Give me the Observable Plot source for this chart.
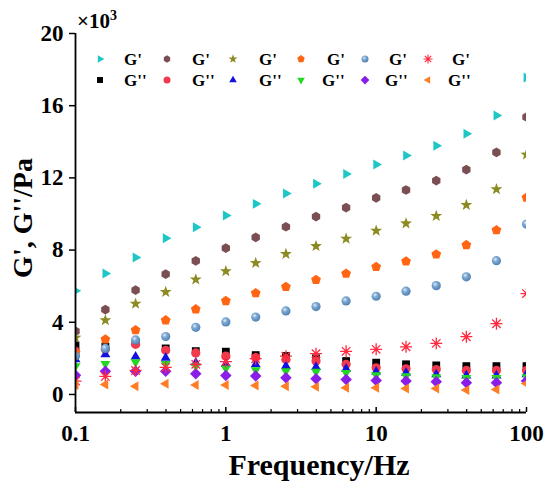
<!DOCTYPE html>
<html><head><meta charset="utf-8">
<script src="https://cdn.jsdelivr.net/npm/d3@7"></script>
<script src="https://cdn.jsdelivr.net/npm/@observablehq/plot@0.6"></script>
<style>body{margin:0;background:#fff}#chart{width:550px;height:485px}</style>
</head><body>
<svg width="0" height="0" style="position:absolute"><defs>
<radialGradient id="sphere" cx="38%" cy="35%" r="70%">
<stop offset="0%" stop-color="#e6eff8"/><stop offset="35%" stop-color="#7eaad4"/><stop offset="100%" stop-color="#4a7db0"/>
</radialGradient></defs></svg>
<div id="chart"></div>
<script>
// Frequency (Hz)
const freq = [0.1, 0.158, 0.251, 0.398, 0.631, 1, 1.58, 2.51, 3.98, 6.31, 10, 15.8, 25.1, 39.8, 63.1, 100];
// G' series (×10^3 Pa)
const gp1 = [5.74, 6.70, 7.59, 8.66, 9.26, 9.92, 10.56, 11.13, 11.68, 12.22, 12.74, 13.24, 13.78, 14.44, 15.46, 17.56];
const gp2 = [3.50, 4.70, 5.78, 6.67, 7.40, 8.11, 8.70, 9.29, 9.85, 10.35, 10.89, 11.33, 11.85, 12.46, 13.41, 15.37];
const gp3 = [3.15, 4.11, 5.03, 5.68, 6.37, 6.83, 7.28, 7.78, 8.22, 8.63, 9.07, 9.48, 9.89, 10.50, 11.37, 13.29];
const gp4 = [2.31, 3.05, 3.56, 4.11, 4.72, 5.18, 5.61, 5.96, 6.35, 6.70, 7.07, 7.37, 7.76, 8.28, 9.11, 10.91];
const gp5 = [2.13, 2.55, 3.02, 3.21, 3.72, 4.02, 4.29, 4.63, 4.87, 5.18, 5.44, 5.72, 6.03, 6.52, 7.41, 9.44];
const gp6 = [0.74, 1.00, 1.33, 1.50, 1.67, 1.82, 1.98, 2.12, 2.26, 2.39, 2.50, 2.64, 2.83, 3.20, 3.92, 5.59];
// G'' series (×10^3 Pa)
const gpp1 = [2.72, 2.65, 2.87, 2.55, 2.40, 2.37, 2.18, 2.13, 2.00, 1.85, 1.76, 1.67, 1.61, 1.57, 1.57, 1.57];
const gpp2 = [2.40, 2.50, 2.78, 2.45, 2.30, 2.13, 2.04, 1.94, 1.85, 1.67, 1.48, 1.42, 1.38, 1.33, 1.33, 1.33];
const gpp3 = [1.95, 2.22, 2.09, 2.03, 1.76, 1.70, 1.67, 1.57, 1.52, 1.42, 1.26, 1.20, 1.11, 1.05, 1.05, 1.11];
const gpp4 = [1.57, 1.70, 1.79, 1.70, 1.57, 1.44, 1.35, 1.29, 1.26, 1.20, 1.07, 1.02, 0.96, 0.92, 0.92, 0.96];
const gpp5 = [1.06, 1.29, 1.29, 1.29, 1.15, 1.05, 1.02, 0.92, 0.87, 0.83, 0.78, 0.74, 0.70, 0.65, 0.65, 0.74];
const gpp6 = [0.52, 0.55, 0.46, 0.59, 0.52, 0.52, 0.50, 0.46, 0.42, 0.37, 0.37, 0.33, 0.33, 0.24, 0.28, 0.60];
// Tick labels
const xTicks = [0.1, 1, 10, 100];
const xMinor = [0.2,0.3,0.4,0.5,0.6,0.7,0.8,0.9,2,3,4,5,6,7,8,9,20,30,40,50,60,70,80,90];
const yTicks = [0, 4, 8, 12, 16, 20];
const labelGp = "G'", labelGpp = "G''";

// custom symbols
function poly(n, rot, k) {
  return {draw(ctx, size) {
    const r = Math.sqrt(size / Math.PI) * k;
    for (let i = 0; i < n; i++) {
      const a = rot + 2 * Math.PI * i / n, x = r * Math.cos(a), y = r * Math.sin(a);
      i ? ctx.lineTo(x, y) : ctx.moveTo(x, y);
    }
    ctx.closePath();
  }};
}
const star5 = {draw(ctx, size) {
  const r = Math.sqrt(size / Math.PI);
  for (let i = 0; i < 10; i++) {
    const a = -Math.PI / 2 + Math.PI * i / 5, rr = i % 2 ? r * 0.55 : r * 1.35;
    const x = rr * Math.cos(a), y = rr * Math.sin(a);
    i ? ctx.lineTo(x, y) : ctx.moveTo(x, y);
  }
  ctx.closePath();
}};
const circ = {draw(ctx, size) { const r = Math.sqrt(size / Math.PI); ctx.moveTo(r, 0); ctx.arc(0, 0, r, 0, 2 * Math.PI); }};
const ast8 = {draw(ctx, size) {
  const r = Math.sqrt(size / Math.PI) * 1.3;
  for (let i = 0; i < 4; i++) {
    const a = Math.PI * i / 4, x = r * Math.cos(a), y = r * Math.sin(a);
    ctx.moveTo(-x, -y); ctx.lineTo(x, y);
  }
}};
const triRight = poly(3, 0, 1.25), triLeft = poly(3, Math.PI, 1.25),
      triUp = poly(3, -Math.PI / 2, 1.25), triDown = poly(3, Math.PI / 2, 1.25),
      hexa = poly(6, -Math.PI / 2, 1.05), penta = poly(5, -Math.PI / 2, 1.12),
      diam = poly(4, -Math.PI / 2, 1.25), squ = poly(4, Math.PI / 4, 1.2);

const gpSeries = [
  {vals: gp1, sym: triRight, fill: "#1ec6c6"},
  {vals: gp2, sym: hexa, fill: "#7a4e53"},
  {vals: gp3, sym: star5, fill: "#8c8a22"},
  {vals: gp4, sym: penta, fill: "#ff6512"},
  {vals: gp5, sym: circ, fill: "url(#sphere)"},
  {vals: gp6, sym: ast8, fill: "none", stroke: "#ff2a40"}
];
const gppSeries = [
  {vals: gpp1, sym: squ, fill: "#000000"},
  {vals: gpp2, sym: circ, fill: "#f23a4c"},
  {vals: gpp3, sym: triUp, fill: "#1212e0"},
  {vals: gpp4, sym: triDown, fill: "#22d822"},
  {vals: gpp5, sym: diam, fill: "#8a1ee8"},
  {vals: gpp6, sym: triLeft, fill: "#ff7d24"}
];

const dotMarks = [];
for (let s = 0; s < 6; s++) {
  for (const ser of [gpSeries[s], gppSeries[s]]) {
    dotMarks.push(Plot.dot(freq.map((f, i) => ({f, v: ser.vals[i]})), {
      x: "f", y: "v", symbol: ser.sym, r: 4.6, fill: ser.fill,
      stroke: ser.stroke || "none", strokeWidth: ser.stroke ? 1.3 : 0, clip: true
    }));
  }
}

const font = "'Liberation Serif','Times New Roman',serif";
const plot = Plot.plot({
  width: 550, height: 485,
  marginLeft: 75, marginRight: 24, marginTop: 33, marginBottom: 73,
  style: {fontFamily: font, fontWeight: "bold", color: "#000", background: "#fff"},
  x: {type: "log", domain: [0.1, 100], label: null},
  y: {domain: [-1, 20], label: null},
  marks: [
    ...dotMarks,
    Plot.ruleX([0.1], {stroke: "#000", strokeWidth: 1.8}),
    Plot.ruleY([-1], {stroke: "#000", strokeWidth: 1.8}),
    Plot.axisX({ticks: xTicks, tickSize: 0, tickPadding: 12, fontSize: 23, fontWeight: "bold", tickFormat: d => String(d), label: null}),
    Plot.axisX({ticks: xTicks, tickSize: -5, strokeWidth: 1.5, tickFormat: () => "", label: null}),
    Plot.axisX({ticks: xMinor, tickSize: -3, strokeWidth: 1.2, tickFormat: () => "", label: null}),
    Plot.axisY({ticks: yTicks, tickSize: 6, tickPadding: 6, strokeWidth: 1.5, fontSize: 23, fontWeight: "bold", label: null})
  ]
});
document.getElementById("chart").appendChild(plot);

const svg = d3.select(plot);
// axis titles
svg.append("text").attr("x", 319).attr("y", 475).attr("text-anchor", "middle")
  .attr("font-family", font).attr("font-weight", "bold").attr("font-size", 30).attr("fill", "#000")
  .text("Frequency/Hz");
svg.append("text").attr("transform", "translate(32,218) rotate(-90)").attr("text-anchor", "middle")
  .attr("font-family", font).attr("font-weight", "bold").attr("font-size", 28).attr("fill", "#000")
  .text("G', G''/Pa");
// ×10^3
const mult = svg.append("text").attr("x", 77).attr("y", 28).attr("text-anchor", "start")
  .attr("font-family", font).attr("font-weight", "bold").attr("font-size", 21).attr("fill", "#000");
mult.append("tspan").text("×10");
mult.append("tspan").attr("dy", -8).attr("font-size", 14).text("3");

// legend
const legSymX = [100, 167, 233, 301, 365, 428];
const legTxtX1 = [124, 192, 259, 327, 389, 452];
const legTxtX2 = [124, 192, 259, 322, 385, 448];
const legRowY = [59, 80];
const lg = svg.append("g");
[[gpSeries, legTxtX1, labelGp], [gppSeries, legTxtX2, labelGpp]].forEach(([ser, tx, lab], row) => {
  ser.forEach((s, i) => {
    lg.append("path")
      .attr("transform", `translate(${legSymX[i]},${legRowY[row]})`)
      .attr("d", d3.symbol(s.sym, Math.PI * 3.5 * 3.5)())
      .attr("fill", s.fill).attr("stroke", s.stroke || "none").attr("stroke-width", s.stroke ? 1.1 : 0);
    lg.append("text").attr("x", tx[i]).attr("y", legRowY[row] + 6).attr("text-anchor", "start")
      .attr("font-family", font).attr("font-weight", "bold").attr("font-size", 17).attr("fill", "#000")
      .text(lab);
  });
});
</script></body></html>
